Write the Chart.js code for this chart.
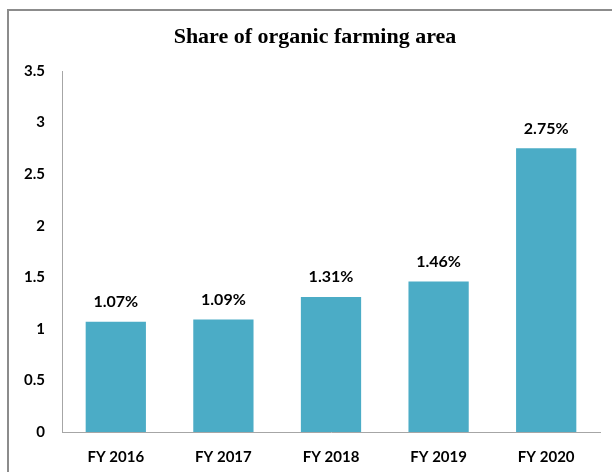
<!DOCTYPE html>
<html>
<head>
<meta charset="utf-8">
<script src="https://cdn.jsdelivr.net/npm/chart.js@4"></script>
<style>
  body { margin: 0; background: #fff; }
  #frame { position: absolute; left: 7px; top: 9px; width: 640px; height: 500px; border: 2px solid #8c8c8c; box-sizing: border-box; }
  #wrap { position: absolute; left: 0; top: 0; width: 612px; height: 472px; }
</style>
</head>
<body>
<div id="frame"></div>
<div id="wrap"><canvas id="mycanvas" width="612" height="472"></canvas></div>
<script>
var chartTitle = "Share of organic farming area";
var years = ["FY 2016", "FY 2017", "FY 2018", "FY 2019", "FY 2020"];
var share = [1.07, 1.09, 1.31, 1.46, 2.75];
var yTicks = [0, 0.5, 1, 1.5, 2, 2.5, 3, 3.5];

var labelFont = "Lato, 'Liberation Sans', sans-serif";

// title drawn by hand so it can sit a bit right of the canvas centre
var titlePlugin = {
	id: "titlePlugin",
	afterDraw: function(chart) {
		var ctx = chart.ctx;
		ctx.save();
		ctx.font = "bold 22px 'Liberation Serif', 'Times New Roman', serif";
		ctx.fillStyle = "#000";
		ctx.textAlign = "center";
		ctx.textBaseline = "middle";
		ctx.fillText(chartTitle, 315, 37);
		ctx.restore();
	}
};

// writes the % value above each bar
var barLabels = {
	id: "barLabels",
	afterDatasetsDraw: function(chart) {
		var ctx = chart.ctx;
		var meta = chart.getDatasetMeta(0);
		ctx.save();
		ctx.font = "bold 16px " + labelFont;
		ctx.fillStyle = "#000";
		ctx.textAlign = "center";
		ctx.textBaseline = "bottom";
		meta.data.forEach(function(bar, i) {
			ctx.fillText(share[i].toFixed(2) + "%", bar.x, bar.y - 12);
		});
		ctx.restore();
	}
};

var chartdata = {
	labels: years,
	datasets: [
		{
			label: "Share",
			backgroundColor: "#4BACC6",
			borderWidth: 0,
			barPercentage: 0.56,
			categoryPercentage: 1,
			data: share
		}
	]
};

var ctx = document.getElementById("mycanvas");

var BarGraph = new Chart(ctx, {
	type: "bar",
	data: chartdata,
	plugins: [barLabels, titlePlugin],
	options: {
		responsive: false,
		animation: false,
		layout: { padding: { left: 0, right: 12, top: 71, bottom: 0 } },
		plugins: {
			legend: { display: false },
			tooltip: { enabled: false },
			title: { display: false }
		},
		scales: {
			x: {
				grid: { display: false, drawTicks: false },
				border: { display: true, color: "#a6a6a6", width: 1 },
				ticks: {
					color: "#000",
					padding: 16,
					font: { family: labelFont, size: 15, weight: "bold" }
				},
				afterFit: function(scale) { scale.height = 40; }
			},
			y: {
				min: 0,
				max: 3.5,
				afterBuildTicks: function(scale) {
					scale.ticks = yTicks.map(function(v) { return { value: v }; });
				},
				grid: { display: false, drawTicks: false },
				border: { display: true, color: "#a6a6a6", width: 1 },
				ticks: {
					color: "#000",
					padding: 17,
					font: { family: labelFont, size: 15, weight: "bold" },
					callback: function(v) { return String(v); }
				},
				afterFit: function(scale) { scale.width = 62; }
			}
		}
	}
});
</script>
</body>
</html>
